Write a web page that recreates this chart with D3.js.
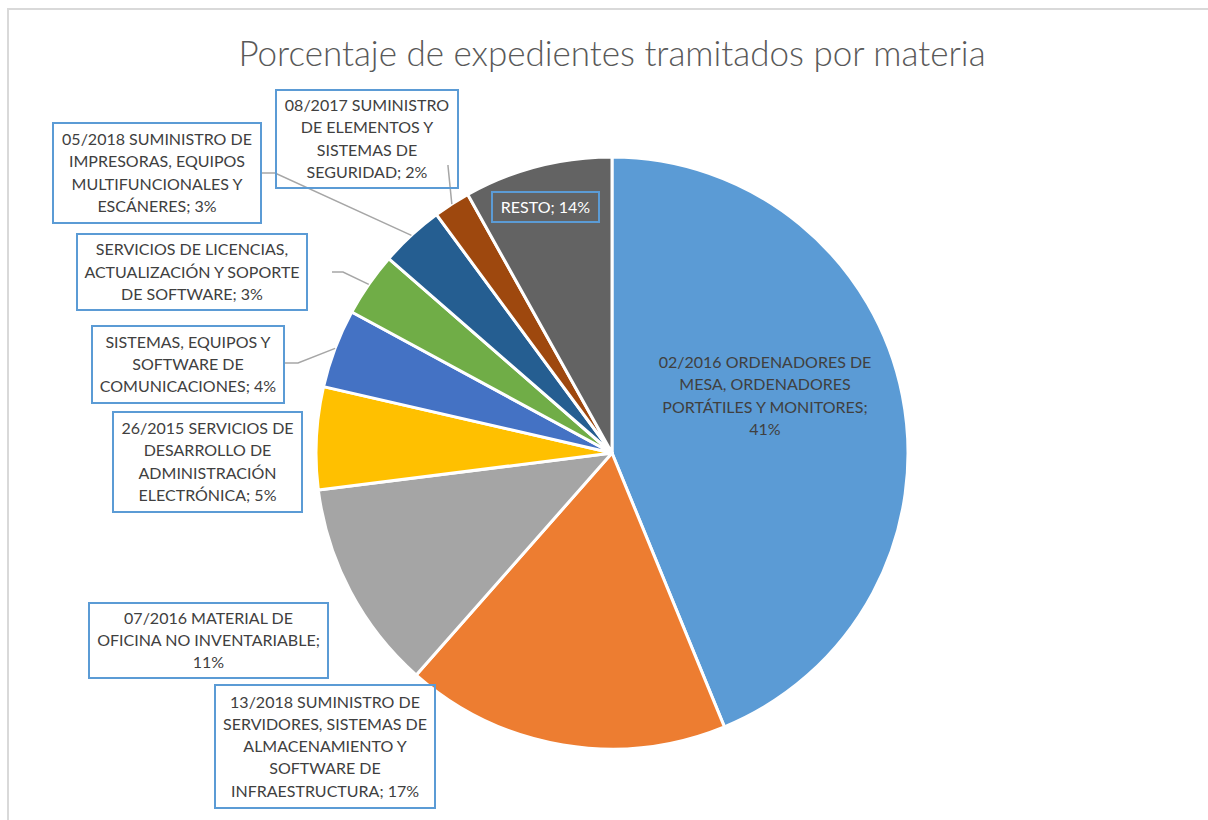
<!DOCTYPE html>
<html>
<head>
<meta charset="utf-8">
<script src="https://cdn.jsdelivr.net/npm/d3@7"></script>
<style>
  body { margin: 0; background: #fff; }
  text { font-family: Lato, "Noto Sans", sans-serif; }
</style>
</head>
<body>
<div id="container"></div>
<script>
// data
var categories = [
  "02/2016 ORDENADORES DE MESA, ORDENADORES PORTÁTILES Y MONITORES",
  "13/2018 SUMINISTRO DE SERVIDORES, SISTEMAS DE ALMACENAMIENTO Y SOFTWARE DE INFRAESTRUCTURA",
  "07/2016 MATERIAL DE OFICINA NO INVENTARIABLE",
  "26/2015 SERVICIOS DE DESARROLLO DE ADMINISTRACIÓN ELECTRÓNICA",
  "SISTEMAS, EQUIPOS Y SOFTWARE DE COMUNICACIONES",
  "SERVICIOS DE LICENCIAS, ACTUALIZACIÓN Y SOPORTE DE SOFTWARE",
  "05/2018 SUMINISTRO DE IMPRESORAS, EQUIPOS MULTIFUNCIONALES Y ESCÁNERES",
  "08/2017 SUMINISTRO DE ELEMENTOS Y SISTEMAS DE SEGURIDAD",
  "RESTO"
];
// slice sizes as drawn
var sliceValues = [43.8, 17.7, 11.5, 5.6, 4.3, 3.5, 3.5, 2.0, 8.1];
// percentages as printed in the labels
var labelPct = ["41%", "17%", "11%", "5%", "4%", "3%", "3%", "2%", "14%"];
var colors = ["#5b9bd5", "#ed7d31", "#a5a5a5", "#ffc000", "#4472c4",
              "#70ad47", "#255e91", "#9e480e", "#636363"];

// label text split in lines (as wrapped in the picture)
var labelLines = [
  ["02/2016 ORDENADORES DE", "MESA, ORDENADORES", "PORTÁTILES Y MONITORES;", "41%"],
  ["13/2018 SUMINISTRO DE", "SERVIDORES, SISTEMAS DE", "ALMACENAMIENTO Y", "SOFTWARE DE", "INFRAESTRUCTURA; 17%"],
  ["07/2016 MATERIAL DE", "OFICINA NO INVENTARIABLE;", "11%"],
  ["26/2015 SERVICIOS DE", "DESARROLLO DE", "ADMINISTRACIÓN", "ELECTRÓNICA; 5%"],
  ["SISTEMAS, EQUIPOS Y", "SOFTWARE DE", "COMUNICACIONES; 4%"],
  ["SERVICIOS DE LICENCIAS,", "ACTUALIZACIÓN Y SOPORTE", "DE SOFTWARE; 3%"],
  ["05/2018 SUMINISTRO DE", "IMPRESORAS, EQUIPOS", "MULTIFUNCIONALES Y", "ESCÁNERES; 3%"],
  ["08/2017 SUMINISTRO", "DE ELEMENTOS Y", "SISTEMAS DE", "SEGURIDAD; 2%"],
  ["RESTO; 14%"]
];

// label box layout (x, y, w, h), null box = no border; leader: elbow point
var labelLayout = [
  {box: null, cx: 765, cy: 396, color: "#404040"},
  {box: [215, 685, 220, 123], color: "#404040"},
  {box: [89, 603, 239, 75], color: "#404040"},
  {box: [113, 412, 189, 100], color: "#404040"},
  {box: [92, 326, 192, 77], color: "#404040", leader: [[284, 363], [298, 363]]},
  {box: [77, 234, 230, 76], color: "#404040", leader: [[332, 272], [343, 272]]},
  {box: [53, 123, 208, 100], color: "#404040", leader: [[261, 173], [275, 173]]},
  {box: [276, 90, 182, 98], color: "#404040", leader: [[448, 165], [448, 166]]},
  {box: [492, 192, 107, 30], color: "#ffffff"}
];

var W = 1208, H = 820;
var cx = 612, cy = 453, radius = 296;

var svg = d3.select("div#container")
  .append("svg")
  .attr("width", W)
  .attr("height", H);

// chart frame
svg.append("rect")
  .attr("x", 8).attr("y", 9)
  .attr("width", W + 20).attr("height", H + 20)
  .attr("fill", "#fff")
  .attr("stroke", "#d9d9d9")
  .attr("stroke-width", 2);

svg.append("text")
  .attr("x", cx)
  .attr("y", 66)
  .attr("text-anchor", "middle")
  .style("font-size", "35px")
  .style("font-weight", 300)
  .attr("fill", "#595959")
  .text("Porcentaje de expedientes tramitados por materia");

var pie = d3.pie().sort(null).value(function(d) { return d; });
var arcs = pie(sliceValues);
var arc = d3.arc().innerRadius(0).outerRadius(radius);

var g = svg.append("g")
  .attr("transform", "translate(" + cx + "," + cy + ")");

g.selectAll("path.slice")
  .data(arcs)
  .enter().append("path")
  .attr("class", "slice")
  .attr("d", arc)
  .attr("fill", function(d, i) { return colors[i]; })
  .attr("stroke", "#fff")
  .attr("stroke-width", 3)
  .attr("stroke-linejoin", "round");

// leader lines
arcs.forEach(function(d, i) {
  var lay = labelLayout[i];
  if (!lay.leader) return;
  var a = (d.startAngle + d.endAngle) / 2;
  var end = [cx + radius * Math.sin(a), cy - radius * Math.cos(a)];
  var pts = lay.leader.concat([end]);
  svg.append("path")
    .attr("d", d3.line()(pts))
    .attr("fill", "none")
    .attr("stroke", "#a6a6a6")
    .attr("stroke-width", 1.5);
});

// labels
var lineH = 22.3;
labelLayout.forEach(function(lay, i) {
  var lines = labelLines[i];
  var bx, by;
  if (lay.box) {
    svg.append("rect")
      .attr("x", lay.box[0]).attr("y", lay.box[1])
      .attr("width", lay.box[2]).attr("height", lay.box[3])
      .attr("fill", "none")
      .attr("stroke", "#5b9bd5")
      .attr("stroke-width", 2);
    bx = lay.box[0] + lay.box[2] / 2;
    by = lay.box[1] + lay.box[3] / 2;
  } else {
    bx = lay.cx; by = lay.cy;
  }
  var t = svg.append("text")
    .attr("text-anchor", "middle")
    .attr("fill", lay.color)
    .style("font-size", "16px");
  lines.forEach(function(s, k) {
    t.append("tspan")
      .attr("x", bx)
      .attr("y", by + (k - (lines.length - 1) / 2) * lineH)
      .attr("dy", "0.35em")
      .text(s);
  });
});
</script>
</body>
</html>
